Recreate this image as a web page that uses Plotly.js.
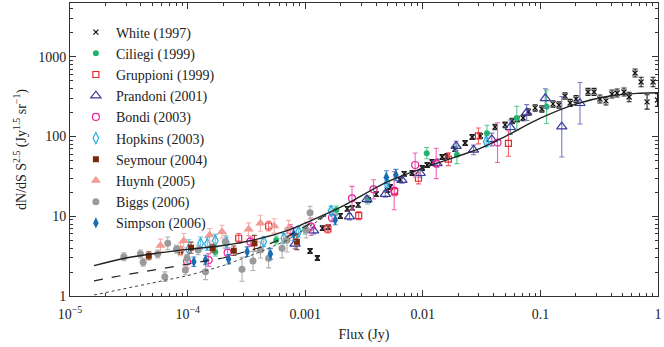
<!DOCTYPE html>
<html>
<head>
<meta charset="utf-8">
<script src="https://cdn.plot.ly/plotly-3.0.1.min.js"></script>
<style>
  html, body { margin: 0; padding: 0; background: #fff; }
  #counts-plot { width: 664px; height: 347px; }
</style>
</head>
<body>
<div id="counts-plot"></div>
<script>
// values, flux in Jy, counts in Jy^1.5 sr^-1
// err arrays are half length of each error bar in dex
var whiteFlux = [0.00110, 0.00127, 0.00140, 0.00157, 0.00199, 0.00228, 0.00251, 0.00282, 0.00344, 0.00402,
    0.00499, 0.00528, 0.00643, 0.00695, 0.00813, 0.00989, 0.0109, 0.0120, 0.0146, 0.0161,
    0.0188, 0.0229, 0.0263, 0.0308, 0.0412, 0.0501, 0.0575, 0.0634, 0.0713, 0.0787,
    0.0902, 0.103, 0.128, 0.144, 0.162, 0.179, 0.201, 0.254, 0.286, 0.321,
    0.361, 0.406, 0.449, 0.514, 0.568, 0.638, 0.718, 0.807, 0.908, 0.99];
var whiteCounts = [3.67, 3.0, 7.1, 7.3, 10.1, 12.4, 12.7, 13.9, 16.0, 19.0,
    21.4, 23.3, 28.5, 34.0, 34.9, 40.4, 44.0, 48.0, 55.5, 57.1,
    69.9, 83.1, 98.9, 101.8, 132, 140, 157, 166, 171, 204,
    229, 222, 257, 249, 323, 264, 296, 363, 363, 296,
    280, 342, 352, 363, 314, 628, 484, 272, 484, 288];
var whiteErr = [0.03, 0.03, 0.03, 0.03, 0.03, 0.03, 0.03, 0.03, 0.03, 0.03,
    0.03, 0.03, 0.03, 0.03, 0.03, 0.03, 0.03, 0.03, 0.03, 0.03,
    0.03, 0.03, 0.03, 0.03, 0.035, 0.035, 0.035, 0.035, 0.035, 0.04,
    0.04, 0.04, 0.04, 0.04, 0.04, 0.045, 0.045, 0.045, 0.045, 0.05,
    0.05, 0.05, 0.05, 0.05, 0.06, 0.05, 0.06, 0.09, 0.06, 0.08];

var ciliegiFlux = [1.72e-4, 5.67e-4, 0.00100, 0.00184, 0.00339, 0.0108, 0.0195, 0.0351, 0.063, 0.113];
var ciliegiCounts = [3.56, 5.04, 6.73, 12.0, 16.0, 62, 59, 110, 170, 237];
var ciliegiErr = [0.05, 0.05, 0.05, 0.05, 0.05, 0.07, 0.11, 0.1, 0.15, 0.21];

var gruppioniFlux = [2.72e-4, 4.89e-4, 0.00156, 0.00285, 0.00576, 0.00918, 0.0165, 0.0297, 0.0535];
var gruppioniCounts = [5.3, 7.56, 6.93, 10.2, 20.4, 30, 52, 102, 82];
var gruppioniErr = [0.06, 0.06, 0.05, 0.05, 0.05, 0.07, 0.08, 0.1, 0.16];

var prandoniFlux = [8.2e-4, 0.00118, 0.00238, 0.00335, 0.0048, 0.00664, 0.0095, 0.0132, 0.0192, 0.027,
    0.0386, 0.0554, 0.0765, 0.110, 0.152, 0.217];
var prandoniCounts = [4.5, 6.6, 9.9, 16.3, 19.0, 28.5, 34.7, 46.2, 76, 68,
    92, 131, 200, 302, 133, 262];
var prandoniErr = [0.06, 0.04, 0.04, 0.04, 0.04, 0.04, 0.05, 0.05, 0.06, 0.06,
    0.08, 0.09, 0.1, 0.12, 0.38, 0.26];

var bondiFlux = [9.9e-5, 1.51e-4, 2.19e-4, 3.42e-4, 7.46e-4, 0.00112, 0.00169, 0.0025, 0.00381, 0.00571,
    0.00861, 0.013, 0.0432];
var bondiCounts = [2.7, 2.83, 3.5, 4.8, 6.7, 7.4, 9.6, 16.8, 21.8, 21,
    44, 46, 84];
var bondiErr = [0.08, 0.08, 0.06, 0.06, 0.07, 0.11, 0.05, 0.15, 0.12, 0.24,
    0.15, 0.19, 0.25];

var hopkinsFlux = [1.02e-4, 1.29e-4, 1.47e-4, 1.72e-4, 2.14e-4, 4.44e-4, 6.57e-4, 8.79e-4, 0.00166, 0.00495, 0.0346];
var hopkinsCounts = [3.85, 4.58, 4.49, 4.94, 4.67, 4.8, 5.3, 6.4, 11.7, 25.9, 86];
var hopkinsErr = [0.12, 0.08, 0.08, 0.08, 0.07, 0.06, 0.06, 0.07, 0.06, 0.05, 0.06];

var seymourFlux = [4.68e-5, 8.69e-5, 1.07e-4, 1.63e-4, 2.47e-4, 3.7e-4, 8.5e-4];
var seymourCounts = [3.2, 3.7, 4.04, 3.97, 3.7, 4.58, 4.8];
var seymourErr = [0.05, 0.05, 0.07, 0.05, 0.06, 0.1, 0.1];

var huynhFlux = [5.88e-5, 8.69e-5, 9.27e-5, 1.54e-4, 1.96e-4, 3.3e-4, 4.16e-4, 5.46e-4, 7.22e-4];
var huynhCounts = [4.3, 3.85, 4.94, 5.83, 6.41, 6.87, 8.17, 7.56, 7.07];
var huynhErr = [0.08, 0.08, 0.09, 0.08, 0.08, 0.08, 0.1, 0.09, 0.1];

var biggsFlux = [2.87e-5, 3.97e-5, 4.19e-5, 5.57e-5, 6.4e-5, 6.78e-5, 8.04e-5, 9.57e-5, 9.9e-5, 1.23e-4,
    1.42e-4, 2.09e-4, 2.9e-4, 3.6e-4, 4.16e-4, 4.89e-4, 6.35e-4, 7.0e-4, 0.00102, 0.0011];
var biggsCounts = [3.11, 3.37, 2.65, 3.37, 1.75, 4.58, 3.85, 2.12, 2.97, 3.78,
    2.02, 4.8, 2.16, 2.75, 3.78, 2.97, 3.97, 5.04, 6.73, 11.1];
var biggsErr = [0.05, 0.05, 0.05, 0.05, 0.06, 0.08, 0.05, 0.06, 0.05, 0.06,
    0.1, 0.08, 0.15, 0.12, 0.1, 0.12, 0.12, 0.15, 0.1, 0.08];

var simpsonFlux = [1.13e-4, 1.42e-4, 2.23e-4, 3.21e-4, 5.06e-4, 7.98e-4, 0.0018, 0.0049, 0.0059];
var simpsonCounts = [2.69, 2.83, 2.89, 3.6, 3.37, 5.94, 9.0, 31, 33];
var simpsonErr = [0.06, 0.06, 0.06, 0.06, 0.07, 0.08, 0.06, 0.08, 0.07];

// model curves
var modelFlux = [1.6e-5, 3e-5, 6e-5, 1e-4, 2e-4, 4e-4, 7e-4, 0.001, 0.002, 0.005,
    0.01, 0.02, 0.03, 0.05, 0.1, 0.2, 0.4, 0.7, 1];
var modelCounts = [2.4, 3.0, 3.5, 3.85, 4.3, 5.2, 6.6, 8.2, 13, 27,
    40, 57, 70, 100, 170, 255, 325, 350, 355];
var dashFlux = [1.6e-5, 3e-5, 6e-5, 1e-4, 2e-4, 4e-4, 7e-4, 0.001, 0.0015];
var dashCounts = [1.55, 1.85, 2.2, 2.5, 3.0, 4.0, 5.5, 7.5, 10.3];
var dotFlux = [1.6e-5, 3e-5, 6e-5, 1e-4, 2e-4, 4e-4, 7e-4, 0.001, 0.0015];
var dotCounts = [1.03, 1.25, 1.55, 1.8, 2.4, 3.5, 5.0, 7.0, 10.0];

var xTickVals = [1e-5, 1e-4, 0.001, 0.01, 0.1, 1];
var xTickText = ["10<sup>\u22125</sup>", "10<sup>\u22124</sup>", "0.001", "0.01", "0.1", "1"];
var yTickVals = [1, 10, 100, 1000];
var yTickText = ["1", "10", "100", "1000"];

// error bars go from v/10^e to v*10^e
function makeSeries(name, flux, counts, err, symbol, size, color, barColor, filled) {
    var up = counts.map((v, i) => v * (Math.pow(10, err[i]) - 1));
    var down = counts.map((v, i) => v * (1 - Math.pow(10, -err[i])));
    return {
        x: flux,
        y: counts,
        name: name,
        type: "scatter",
        mode: "markers",
        marker: {
            symbol: symbol,
            size: size,
            color: color,
            line: { color: color, width: filled ? 0 : 1.2 }
        },
        error_y: {
            type: "data",
            symmetric: false,
            array: up,
            arrayminus: down,
            color: barColor,
            thickness: 1.1,
            width: 2.5
        }
    };
}

var data = [
    makeSeries("White (1997)", whiteFlux, whiteCounts, whiteErr, "x-thin", 5, "#111111", "#222222", false),
    makeSeries("Ciliegi (1999)", ciliegiFlux, ciliegiCounts, ciliegiErr, "circle", 6, "#23b26d", "#5cc890", true),
    makeSeries("Gruppioni (1999)", gruppioniFlux, gruppioniCounts, gruppioniErr, "square-open", 6, "#e8262d", "#ee6166", false),
    makeSeries("Prandoni (2001)", prandoniFlux, prandoniCounts, prandoniErr, "triangle-up-open", 9, "#38389c", "#7a7ac0", false),
    makeSeries("Bondi (2003)", bondiFlux, bondiCounts, bondiErr, "circle-open", 7, "#e6239b", "#ee66b8", false),
    makeSeries("Hopkins (2003)", hopkinsFlux, hopkinsCounts, hopkinsErr, "diamond-tall-open", 8, "#27aae1", "#62c2ea", false),
    makeSeries("Seymour (2004)", seymourFlux, seymourCounts, seymourErr, "square", 6, "#7a2a0a", "#8e4a30", true),
    makeSeries("Huynh (2005)", huynhFlux, huynhCounts, huynhErr, "triangle-up", 9, "#f39a92", "#f5b0aa", true),
    makeSeries("Biggs (2006)", biggsFlux, biggsCounts, biggsErr, "circle", 7, "#9a9a9a", "#b0b0b0", true),
    makeSeries("Simpson (2006)", simpsonFlux, simpsonCounts, simpsonErr, "diamond-tall", 8, "#196db3", "#4a8cc8", true),
    { x: dotFlux, y: dotCounts, type: "scatter", mode: "lines", showlegend: false,
      line: { color: "#444444", width: 1, dash: "dot" } },
    { x: dashFlux, y: dashCounts, type: "scatter", mode: "lines", showlegend: false,
      line: { color: "#222222", width: 1.2, dash: "dash" } },
    { x: modelFlux, y: modelCounts, type: "scatter", mode: "lines", showlegend: false,
      line: { color: "#222222", width: 1.4, shape: "spline" } }
];

var minorX = [];
var minorY = [];
for (var d = -5; d < 0; d++) {
    for (var m = 2; m < 10; m++) minorX.push(m * Math.pow(10, d));
}
for (var d2 = 0; d2 < 4; d2++) {
    for (var m2 = 2; m2 < 10; m2++) minorY.push(m2 * Math.pow(10, d2));
}

var layout = {
    width: 664,
    height: 347,
    margin: { l: 70, r: 6, t: 3, b: 51 },
    paper_bgcolor: "#ffffff",
    plot_bgcolor: "#ffffff",
    font: { family: "Liberation Serif, DejaVu Serif, serif", size: 14, color: "#222222" },
    showlegend: true,
    legend: {
        x: 0.01, y: 0.954, xanchor: "left", yanchor: "top",
        bgcolor: "rgba(255,255,255,0)",
        font: { size: 14 },
        itemwidth: 30
    },
    xaxis: {
        type: "log",
        range: [-5, 0],
        tickmode: "array",
        tickvals: xTickVals,
        ticktext: xTickText,
        ticks: "inside",
        ticklen: 6,
        tickcolor: "#333333",
        ticklabelstandoff: 5,
        showgrid: false,
        zeroline: false,
        showline: true,
        linecolor: "#333333",
        linewidth: 1,
        mirror: "ticks",
        minor: { tickmode: "array", tickvals: minorX, ticks: "inside", ticklen: 3, tickcolor: "#333333", showgrid: false },
        title: { text: "Flux (Jy)", font: { size: 14 }, standoff: 8 }
    },
    yaxis: {
        type: "log",
        range: [0, 3.676],
        tickmode: "array",
        tickvals: yTickVals,
        ticktext: yTickText,
        ticks: "inside",
        ticklen: 6,
        tickcolor: "#333333",
        showgrid: false,
        zeroline: false,
        showline: true,
        linecolor: "#333333",
        linewidth: 1,
        mirror: "ticks",
        minor: { tickmode: "array", tickvals: minorY, ticks: "inside", ticklen: 3, tickcolor: "#333333", showgrid: false },
        title: { text: "dN/dS S<sup>2.5</sup> (Jy<sup>1.5</sup> sr<sup>\u22121</sup>)", font: { size: 14 }, standoff: 8 }
    }
};

Plotly.newPlot("counts-plot", data, layout, { displayModeBar: false, staticPlot: true });
</script>
</body>
</html>
